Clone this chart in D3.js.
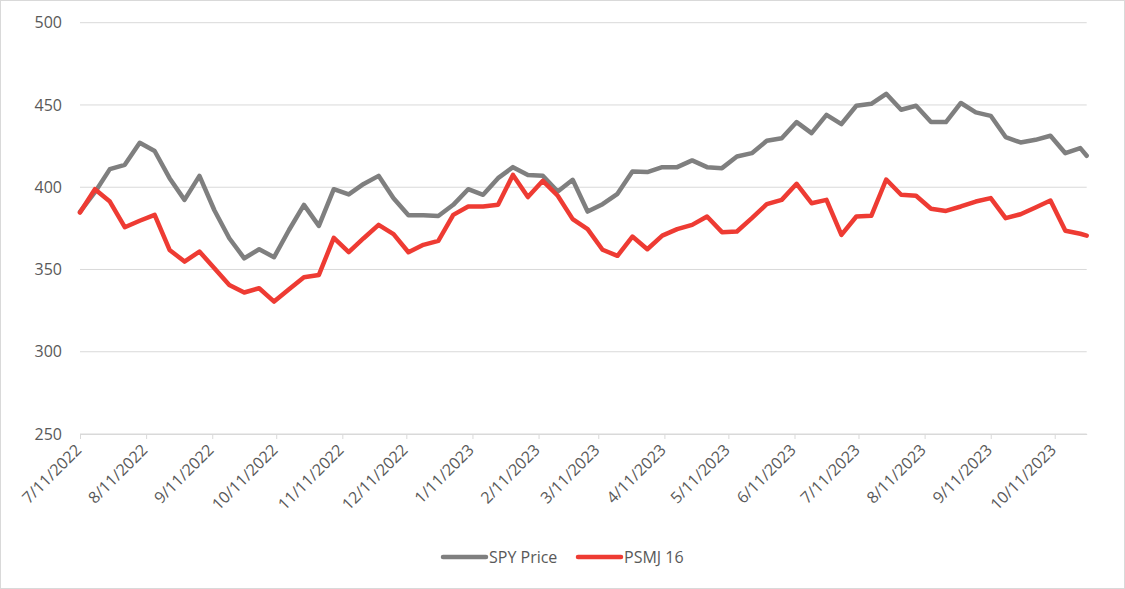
<!DOCTYPE html>
<html>
<head>
<meta charset="utf-8">
<script src="https://cdn.jsdelivr.net/npm/d3@7"></script>
<style>
  html, body { margin: 0; padding: 0; background: #fff; }
  svg { display: block; font-family: "Open Sans", "Liberation Sans", sans-serif; }
</style>
</head>
<body>
<svg id="chart" width="1125" height="589"></svg>
<script>
const dates = [
  "2022-07-11","2022-07-18","2022-07-25","2022-08-01","2022-08-08","2022-08-15","2022-08-22","2022-08-29",
  "2022-09-05","2022-09-12","2022-09-19","2022-09-26","2022-10-03","2022-10-10","2022-10-17","2022-10-24",
  "2022-10-31","2022-11-07","2022-11-14","2022-11-21","2022-11-28","2022-12-05","2022-12-12","2022-12-19",
  "2022-12-26","2023-01-02","2023-01-09","2023-01-16","2023-01-23","2023-01-30","2023-02-06","2023-02-13",
  "2023-02-20","2023-02-27","2023-03-06","2023-03-13","2023-03-20","2023-03-27","2023-04-03","2023-04-10",
  "2023-04-17","2023-04-24","2023-05-01","2023-05-08","2023-05-15","2023-05-22","2023-05-29","2023-06-05",
  "2023-06-12","2023-06-19","2023-06-26","2023-07-03","2023-07-10","2023-07-17","2023-07-24","2023-07-31",
  "2023-08-07","2023-08-14","2023-08-21","2023-08-28","2023-09-04","2023-09-11","2023-09-18","2023-09-25",
  "2023-10-02","2023-10-09","2023-10-16","2023-10-23","2023-10-26"
];

const spyPrice = [
  385, 397, 411, 413.6, 427, 422, 405.5, 392.3, 406.9, 386, 369, 356.8, 362.3, 357.5, 374, 389.3,
  376.5, 398.8, 395.6, 402, 406.9, 393.3, 383, 382.9, 382.5, 389.3, 398.8, 395.4, 405.5, 412.2, 407.5, 406.9,
  397.4, 404.5, 385.2, 389.7, 396, 409.6, 409.2, 412.2, 412.2, 416.3, 412.2, 411.6, 418.7, 420.7, 428.2, 429.8,
  439.6, 432.9, 444, 438.4, 449.5, 450.7, 456.8, 447.1, 449.5, 439.6, 439.6, 451.2, 445.5, 443.4, 430.5, 427.2,
  428.8, 431.3, 420.7, 423.8, 419.1
];

const psmj16 = [
  384.6, 398.8, 391.3, 375.7, 379.6, 383.2, 361.9, 354.8, 360.9, 350.8, 340.6, 336, 338.6, 330.5, 338, 345.3,
  346.7, 369.2, 360.5, 369, 377.1, 371.5, 360.5, 365, 367.4, 383.2, 388.3, 388.3, 389.3, 407.5, 394, 403.9,
  394.8, 380.6, 374.5, 362, 358.3, 370, 362.3, 370.6, 374.5, 377.1, 382.2, 372.7, 373.1, 381.2, 389.7, 392.3,
  402.1, 390.3, 392.3, 371, 382.2, 382.6, 404.7, 395.4, 394.8, 386.9, 385.6, 388.3, 391.3, 393.4, 381.2, 383.6,
  387.7, 391.9, 373.5, 371.7, 370.6
];

const xTickLabels = [
  "7/11/2022","8/11/2022","9/11/2022","10/11/2022","11/11/2022","12/11/2022",
  "1/11/2023","2/11/2023","3/11/2023","4/11/2023","5/11/2023","6/11/2023",
  "7/11/2023","8/11/2023","9/11/2023","10/11/2023"
];
const yTicks = [250, 300, 350, 400, 450, 500];

const seriesNames = ["SPY Price", "PSMJ 16"];
const seriesColors = ["#7f7f7f", "#ee3b33"];

const parseISO = d3.timeParse("%Y-%m-%d");
const parseMDY = d3.timeParse("%m/%d/%Y");
const dateObjs = dates.map(parseISO);
const tickDates = xTickLabels.map(parseMDY);

const svg = d3.select("#chart");
const W = 1125, H = 589;

svg.append("rect")
  .attr("x", 0.5).attr("y", 0.5).attr("width", W - 1).attr("height", H - 1)
  .attr("fill", "#fff").attr("stroke", "#d9d9d9");

const plotL = 80, plotR = 1086.7, plotT = 22.7, plotB = 434;

const x = d3.scaleTime().domain([dateObjs[0], dateObjs[dateObjs.length - 1]]).range([plotL, plotR]);
const y = d3.scaleLinear().domain([250, 500]).range([plotB, plotT]);

// gridlines
svg.append("g")
  .selectAll("line")
  .data(yTicks)
  .join("line")
  .attr("x1", plotL).attr("x2", plotR)
  .attr("y1", d => y(d)).attr("y2", d => y(d))
  .attr("stroke", "#d9d9d9").attr("stroke-width", 1);

// y axis labels
const yAxis = d3.axisLeft(y).tickValues(yTicks).tickSize(0).tickPadding(18);
svg.append("g")
  .attr("transform", `translate(${plotL},0)`)
  .call(yAxis)
  .call(g => g.select(".domain").remove())
  .call(g => g.selectAll("text")
    .attr("fill", "#595959")
    .style("font-size", "16px")
    .style("font-family", "'Open Sans', 'Liberation Sans', sans-serif"));

// x axis
const xAxis = d3.axisBottom(x)
  .tickValues(tickDates)
  .tickFormat((d, i) => xTickLabels[i])
  .tickSize(5)
  .tickSizeOuter(0);

svg.append("g")
  .attr("transform", `translate(0,${plotB})`)
  .call(xAxis)
  .call(g => g.select(".domain").attr("stroke", "#d9d9d9"))
  .call(g => g.selectAll(".tick line").attr("stroke", "#d9d9d9"))
  .call(g => g.selectAll("text")
    .attr("fill", "#595959")
    .style("font-size", "16px")
    .style("font-family", "'Open Sans', 'Liberation Sans', sans-serif")
    .attr("text-anchor", "end")
    .attr("dy", "0.35em")
    .attr("x", 0).attr("y", 0)
    .attr("transform", "translate(-2,13) rotate(-45)"));

// lines
const line = d3.line()
  .x((d, i) => x(dateObjs[i]))
  .y(d => y(d));

[spyPrice, psmj16].forEach((vals, k) => {
  svg.append("path")
    .datum(vals)
    .attr("d", line)
    .attr("fill", "none")
    .attr("stroke", seriesColors[k])
    .attr("stroke-width", 4.5)
    .attr("stroke-linejoin", "round")
    .attr("stroke-linecap", "round");
});

// legend
const legendY = 557;
const legendItems = [
  { name: seriesNames[0], color: seriesColors[0], x0: 443 },
  { name: seriesNames[1], color: seriesColors[1], x0: 578 }
];
const lg = svg.append("g");
legendItems.forEach(it => {
  lg.append("line")
    .attr("x1", it.x0).attr("x2", it.x0 + 43)
    .attr("y1", legendY).attr("y2", legendY)
    .attr("stroke", it.color).attr("stroke-width", 4.5)
    .attr("stroke-linecap", "round");
  lg.append("text")
    .attr("x", it.x0 + 46).attr("y", legendY)
    .attr("dy", "0.35em")
    .attr("fill", "#595959")
    .style("font-size", "16px")
    .text(it.name);
});
</script>
</body>
</html>
